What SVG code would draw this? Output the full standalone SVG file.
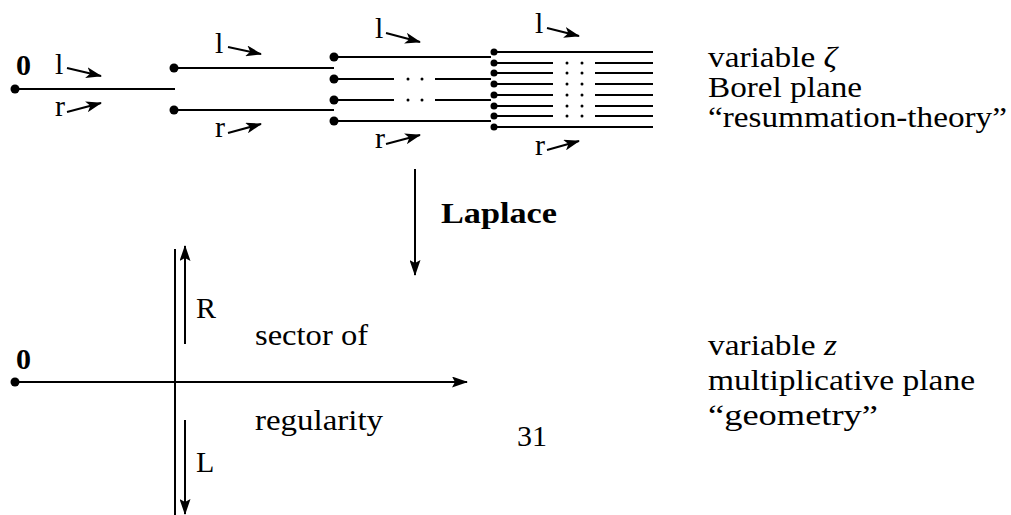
<svg xmlns="http://www.w3.org/2000/svg" width="1011" height="515" viewBox="0 0 1011 515">
<defs>
<style>
text{font-family:"Liberation Serif","Times New Roman",serif;font-size:30px;fill:#000}
.b{font-weight:bold}
.ln{stroke:#000;stroke-width:2;fill:none}
.dot{fill:#000}
</style>
<marker id="sh" viewBox="0 0 16 11" refX="15" refY="5.5" markerWidth="16" markerHeight="11" markerUnits="userSpaceOnUse" orient="auto">
<path d="M0,0 L16,5.5 L0,11 L4,5.5 Z" fill="#000"/>
</marker>
<marker id="ah" viewBox="0 0 16 11" refX="15" refY="5.5" markerWidth="16" markerHeight="11" markerUnits="userSpaceOnUse" orient="auto">
<path d="M0,0 L16,5.5 L0,11 L3,5.5 Z" fill="#000"/>
</marker>
</defs>
<rect width="1011" height="515" fill="#fff"/>

<g id="borel-plane">
<g id="level0">
<circle class="dot" cx="15" cy="89" r="4.5"/>
<line class="ln" x1="15" y1="89" x2="175" y2="89"/>
<text class="b" x="16" y="75">0</text>
</g>
<g id="level1">
<circle class="dot" cx="174" cy="68" r="4.5"/>
<circle class="dot" cx="174" cy="110" r="4.5"/>
<line class="ln" x1="174" y1="68" x2="334" y2="68"/>
<line class="ln" x1="174" y1="110" x2="334" y2="110"/>
</g>
<g id="level2">
<circle class="dot" cx="334" cy="57" r="4.5"/>
<circle class="dot" cx="334" cy="79" r="4.5"/>
<circle class="dot" cx="334" cy="100" r="4.5"/>
<circle class="dot" cx="334" cy="121" r="4.5"/>
<line class="ln" x1="334" y1="57" x2="491" y2="57"/>
<line class="ln" x1="334" y1="121" x2="491" y2="121"/>
<path class="ln" d="M334,79H394M435,79H491M334,100H394M435,100H491"/>
<g class="dot">
<circle cx="408" cy="79" r="1.5"/><circle cx="422" cy="79" r="1.5"/>
<circle cx="408" cy="100" r="1.5"/><circle cx="422" cy="100" r="1.5"/>
</g>
</g>
<g id="level3">
<g class="dot">
<circle cx="494" cy="52" r="3.5"/><circle cx="494" cy="63" r="3.5"/>
<circle cx="494" cy="73" r="3.5"/><circle cx="494" cy="84" r="3.5"/>
<circle cx="494" cy="95" r="3.5"/><circle cx="494" cy="106" r="3.5"/>
<circle cx="494" cy="116" r="3.5"/><circle cx="494" cy="127" r="3.5"/>
</g>
<path class="ln" d="M494,52H653M494,127H653"/>
<path class="ln" d="M494,63H553M595,63H653M494,73H553M595,73H653M494,84H553M595,84H653M494,95H553M595,95H653M494,106H553M595,106H653M494,116H553M595,116H653"/>
<g class="dot">
<circle cx="567" cy="63" r="1.5"/><circle cx="582" cy="63" r="1.5"/>
<circle cx="567" cy="73" r="1.5"/><circle cx="582" cy="73" r="1.5"/>
<circle cx="567" cy="84" r="1.5"/><circle cx="582" cy="84" r="1.5"/>
<circle cx="567" cy="95" r="1.5"/><circle cx="582" cy="95" r="1.5"/>
<circle cx="567" cy="106" r="1.5"/><circle cx="582" cy="106" r="1.5"/>
<circle cx="567" cy="116" r="1.5"/><circle cx="582" cy="116" r="1.5"/>
</g>
</g>
<g id="lr-labels">
<text x="55" y="74">l</text>
<text x="55" y="116">r</text>
<text x="215" y="53">l</text>
<text x="215" y="137">r</text>
<text x="375" y="38">l</text>
<text x="375" y="148">r</text>
<text x="535" y="33">l</text>
<text x="535" y="155">r</text>
</g>
<g id="lr-arrows" class="ln" stroke-width="2.5">
<line x1="67" y1="68" x2="101" y2="76" marker-end="url(#sh)"/>
<line x1="67" y1="112" x2="101" y2="103" marker-end="url(#sh)"/>
<line x1="228" y1="47" x2="261" y2="54" marker-end="url(#sh)"/>
<line x1="228" y1="133" x2="261" y2="124" marker-end="url(#sh)"/>
<line x1="386" y1="33" x2="420" y2="42" marker-end="url(#sh)"/>
<line x1="386" y1="144" x2="420" y2="135" marker-end="url(#sh)"/>
<line x1="547" y1="28" x2="579" y2="36" marker-end="url(#sh)"/>
<line x1="547" y1="150" x2="579" y2="141" marker-end="url(#sh)"/>
</g>
</g>

<g id="borel-caption">
<text x="708" y="67" textLength="129" lengthAdjust="spacingAndGlyphs">variable <tspan font-style="italic">ζ</tspan></text>
<text x="708" y="97" textLength="154" lengthAdjust="spacingAndGlyphs">Borel plane</text>
<text x="708" y="127" textLength="299" lengthAdjust="spacingAndGlyphs">“resummation-theory”</text>
</g>

<g id="connectors">
<line class="ln" x1="415" y1="169" x2="415" y2="275" marker-end="url(#ah)"/>
</g>
<g id="laplace-label">
<text class="b" x="441" y="223" textLength="116" lengthAdjust="spacingAndGlyphs">Laplace</text>
</g>

<g id="z-plane">
<circle class="dot" cx="15" cy="382" r="4.5"/>
<text class="b" x="16" y="369">0</text>
<line class="ln" x1="15" y1="382" x2="467" y2="382" marker-end="url(#ah)"/>
<line class="ln" x1="175" y1="249" x2="175" y2="515"/>
<line class="ln" x1="185" y1="344" x2="185" y2="246" marker-end="url(#ah)"/>
<line class="ln" x1="185" y1="420" x2="185" y2="514" marker-end="url(#ah)"/>
<text x="196" y="318">R</text>
<text x="196" y="472">L</text>
<text x="255" y="345" textLength="113" lengthAdjust="spacingAndGlyphs">sector of</text>
<text x="255" y="430" textLength="128" lengthAdjust="spacingAndGlyphs">regularity</text>
</g>

<g id="z-caption">
<text x="708" y="355" textLength="129" lengthAdjust="spacingAndGlyphs">variable <tspan font-style="italic">z</tspan></text>
<text x="708" y="390" textLength="267" lengthAdjust="spacingAndGlyphs">multiplicative plane</text>
<text x="708" y="425" textLength="170" lengthAdjust="spacingAndGlyphs">“geometry”</text>
</g>

<text x="517" y="446" textLength="30" lengthAdjust="spacingAndGlyphs">31</text>
</svg>
